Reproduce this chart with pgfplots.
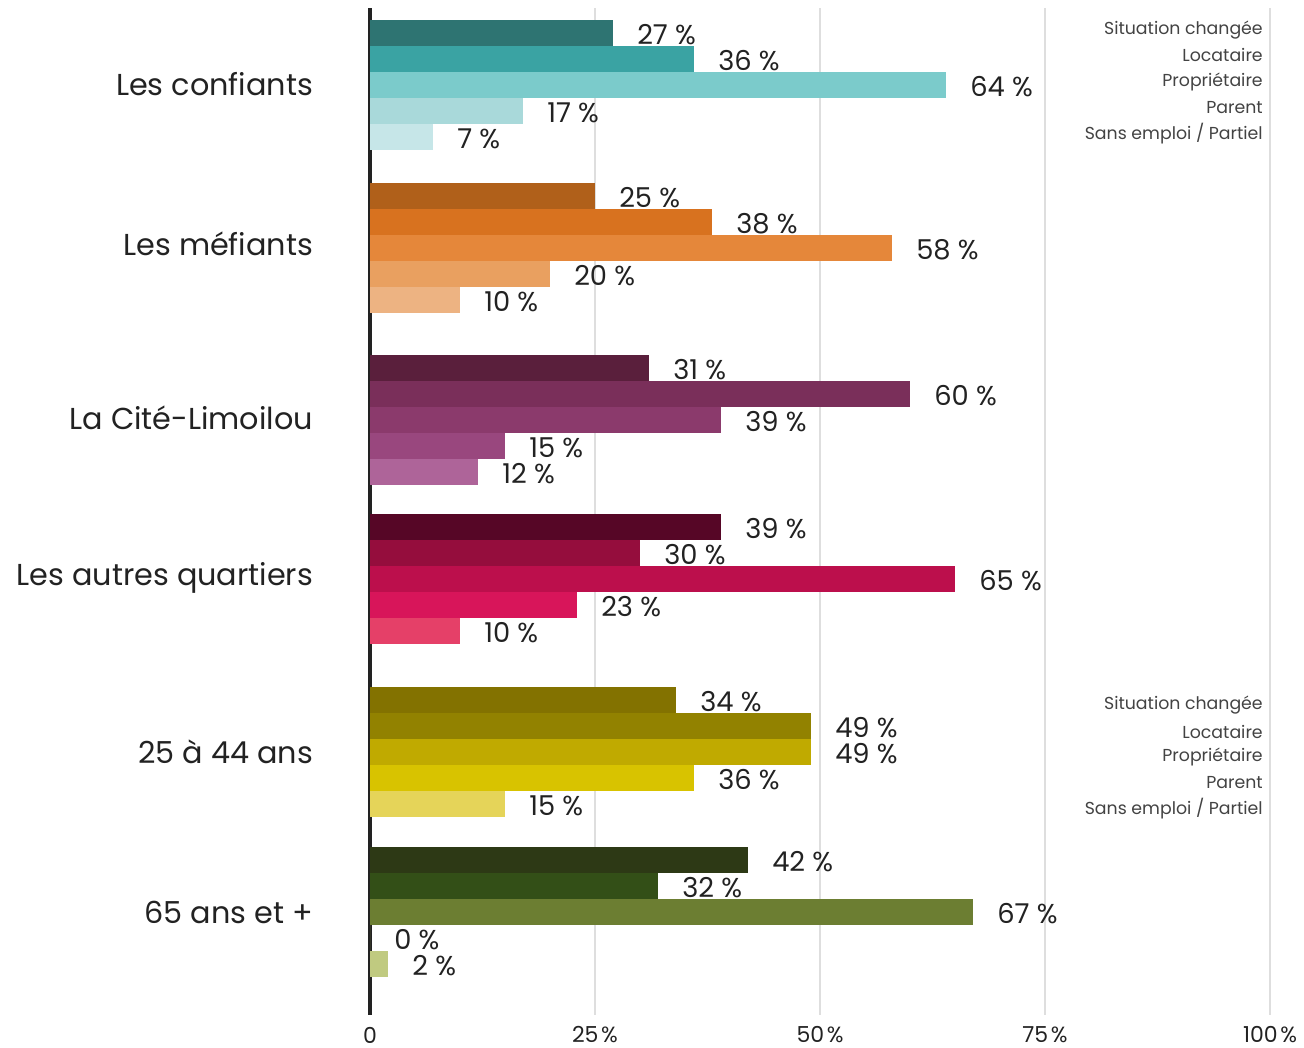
\documentclass[border=0pt]{standalone}
\usepackage{fontspec}
\setmainfont{Poppins}
\usepackage{pgfplots}
\pgfplotsset{compat=1.18}
\definecolor{a1}{HTML}{2E7472}\definecolor{a2}{HTML}{3AA3A3}\definecolor{a3}{HTML}{7BCBCB}\definecolor{a4}{HTML}{A9D9DA}\definecolor{a5}{HTML}{C6E6E8}
\definecolor{b1}{HTML}{B0601A}\definecolor{b2}{HTML}{D8721F}\definecolor{b3}{HTML}{E5873A}\definecolor{b4}{HTML}{E9A060}\definecolor{b5}{HTML}{EDB382}
\definecolor{c1}{HTML}{5A1F3C}\definecolor{c2}{HTML}{7A2F5A}\definecolor{c3}{HTML}{8B3A6C}\definecolor{c4}{HTML}{99477E}\definecolor{c5}{HTML}{AE6499}
\definecolor{d1}{HTML}{560626}\definecolor{d2}{HTML}{950D3D}\definecolor{d3}{HTML}{BC0F4C}\definecolor{d4}{HTML}{D8155A}\definecolor{d5}{HTML}{E54068}
\definecolor{e1}{HTML}{837200}\definecolor{e2}{HTML}{928200}\definecolor{e3}{HTML}{C0AA00}\definecolor{e4}{HTML}{D8C300}\definecolor{e5}{HTML}{E5D459}
\definecolor{f1}{HTML}{2D3915}\definecolor{f2}{HTML}{334F17}\definecolor{f3}{HTML}{6C7E32}\definecolor{f4}{HTML}{A8B860}\definecolor{f5}{HTML}{C0CA80}
\definecolor{txt}{HTML}{222222}
\newcommand\B[3]{\addplot[xbar, bar shift=0pt, draw=none, fill=#1, bar width=26, nodes near coords={#2~\%}] coordinates {(#2,#3)};}
\begin{document}
\begin{tikzpicture}[x=0.75pt,y=0.75pt]
\path[use as bounding box] (0,0) rectangle (1304,1048);
\begin{axis}[
 at={(277.5pt,24.75pt)}, anchor=south west,
 scale only axis, width=675pt, height=755.25pt,
 xmin=0, xmax=100, ymin=-1015, ymax=-8,
 clip=false,
 axis x line*=bottom, x axis line style={draw=none},
 axis y line*=left, y axis line style={line width=2.4pt, color=txt},
 ytick=\empty,
 xtick={0,25,50,75,100}, xticklabels={},
 major tick length=0pt,
 xmajorgrids, grid style={black!13, line width=0.8pt},
 every node near coord/.style={anchor=west, inner sep=0pt, xshift=18pt, yshift=-1.2pt, font=\fontsize{20.5}{20.5}\selectfont, text=txt},
]
\B{a1}{27}{-33}\B{a2}{36}{-59}\B{a3}{64}{-85}\B{a4}{17}{-111}\B{a5}{7}{-137}
\B{b1}{25}{-196}\B{b2}{38}{-222}\B{b3}{58}{-248}\B{b4}{20}{-274}\B{b5}{10}{-300}
\B{c1}{31}{-368}\B{c2}{60}{-394}\B{c3}{39}{-420}\B{c4}{15}{-446}\B{c5}{12}{-472}
\B{d1}{39}{-527}\B{d2}{30}{-553}\B{d3}{65}{-579}\B{d4}{23}{-605}\B{d5}{10}{-631}
\B{e1}{34}{-700}\B{e2}{49}{-726}\B{e3}{49}{-752}\B{e4}{36}{-778}\B{e5}{15}{-804}
\B{f1}{42}{-860}\B{f2}{32}{-886}\B{f3}{67}{-912}\B{f4}{0}{-938}\B{f5}{2}{-964}
\begin{scope}[every node/.style={anchor=center, inner sep=0pt, text=txt, font=\fontsize{16.5}{16.5}\selectfont}]
\node at (axis cs:0,-1035) {0};
\node at (axis cs:25,-1035) {25\kern0.12em\%};
\node at (axis cs:50,-1035) {50\kern0.12em\%};
\node at (axis cs:75,-1035) {75\kern0.12em\%};
\node at (axis cs:100,-1035) {100\kern0.12em\%};
\end{scope}
\begin{scope}[every node/.style={anchor=east, inner sep=0pt, text=txt, font=\fontsize{22.7}{22.7}\selectfont}]
\node at (axis cs:-6.3,-84) {Les confiants};
\node at (axis cs:-6.3,-244) {Les méfiants};
\node at (axis cs:-6.3,-418) {La Cité-Limoilou};
\node at (axis cs:-6.3,-578) {Les autres quartiers};
\node at (axis cs:-6.3,-752) {25 à 44 ans};
\node at (axis cs:-6.3,-912) {65 ans et +};
\end{scope}
\begin{scope}[every node/.style={anchor=east, inner sep=0pt, text=txt!85, font=\fontsize{13}{13}\selectfont}]
\node at (axis cs:99.22,-30.5) {Situation changée};
\node at (axis cs:99.22,-55.5) {Locataire};
\node at (axis cs:99.22,-81.5) {Propriétaire};
\node at (axis cs:99.22,-107.5) {Parent};
\node at (axis cs:99.22,-133.5) {Sans emploi / Partiel};
\node at (axis cs:99.22,-705.5) {Situation changée};
\node at (axis cs:99.22,-731.5) {Locataire};
\node at (axis cs:99.22,-756.5) {Propriétaire};
\node at (axis cs:99.22,-782.5) {Parent};
\node at (axis cs:99.22,-808.5) {Sans emploi / Partiel};
\end{scope}
\end{axis}
\end{tikzpicture}
\end{document}
